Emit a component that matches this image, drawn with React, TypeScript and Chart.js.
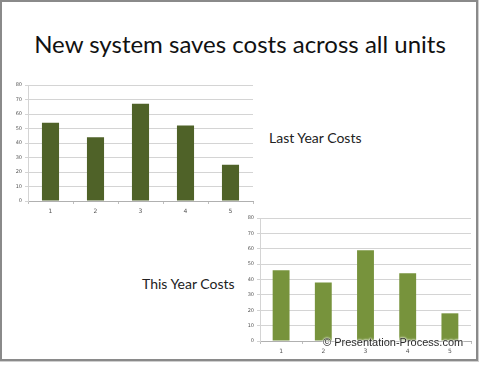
import React, { useEffect, useRef } from "react";
import { Chart, registerables } from "chart.js";

Chart.register(...registerables);

const categories = ["1", "2", "3", "4", "5"];
const lastYearCosts = [54, 44, 67, 52, 25];
const thisYearCosts = [46, 38, 59, 44, 18];
const yTicks = [0, 10, 20, 30, 40, 50, 60, 70, 80];

const titleText = "New system saves costs across all units";
const lastLabel = "Last Year Costs";
const thisLabel = "This Year Costs";
const watermark = "© Presentation-Process.com";

function makeConfig(values: number[], color: string, yWidth: number, barPct: number, padRight: number, padTop: number, xHeight: number): any {
  return {
    type: "bar",
    data: {
      labels: categories,
      datasets: [{ data: values, backgroundColor: color, borderWidth: 0, barPercentage: barPct, categoryPercentage: 1 }],
    },
    options: {
      animation: false,
      responsive: false,
      maintainAspectRatio: false,
      layout: { padding: { left: 0, right: padRight, top: padTop, bottom: 0 } },
      plugins: { legend: { display: false }, tooltip: { enabled: false }, title: { display: false } },
      scales: {
        x: {
          grid: { offset: true, drawOnChartArea: false, drawTicks: true, tickLength: 3, color: "#bfbfbf" },
          border: { display: true, color: "#b0b0b0" },
          ticks: { font: { size: 6, family: "DejaVu Sans" }, color: "#555", padding: 4 },
          afterFit: (s: any) => { s.height = xHeight; },
        },
        y: {
          min: 0,
          max: 80,
          afterBuildTicks: (s: any) => { s.ticks = yTicks.map((v) => ({ value: v })); },
          grid: { color: "#d4d4d4", tickLength: 3 },
          border: { display: true, color: "#d4d4d4" },
          ticks: { font: { size: 5, family: "DejaVu Sans" }, color: "#555", padding: 3 },
          afterFit: (s: any) => { s.width = yWidth; },
        },
      },
    },
  };
}

function BarCanvas(props: { values: number[]; color: string; left: number; top: number; width: number; height: number; yWidth: number; barPct: number; padRight: number; padTop: number; xHeight: number }) {
  const ref = useRef<HTMLCanvasElement>(null);
  useEffect(() => {
    if (!ref.current) return;
    const c = new Chart(ref.current, makeConfig(props.values, props.color, props.yWidth, props.barPct, props.padRight, props.padTop, props.xHeight));
    return () => c.destroy();
  }, []);
  return (
    <canvas
      ref={ref}
      width={props.width}
      height={props.height}
      style={{ position: "absolute", left: props.left, top: props.top, width: props.width, height: props.height }}
    />
  );
}

export default function App() {
  useEffect(() => {
    document.body.style.margin = "0";
  }, []);
  const textFont = "Lato, 'Open Sans', sans-serif";
  return (
    <div style={{ position: "absolute", left: 0, top: 0, width: 480, height: 365, background: "#fff", overflow: "hidden" }}>
      <div style={{ position: "absolute", left: 0, top: 0, width: 474, height: 357, border: "2px solid #8a8a8a", outline: "1px solid #cfcfcf", outlineOffset: 0 }} />
      <div style={{ position: "absolute", left: 0, top: 29, width: 480, textAlign: "center", fontFamily: textFont, fontSize: 24, color: "#111", whiteSpace: "nowrap" }}>{titleText}</div>
      <BarCanvas values={lastYearCosts} color="#4f6228" left={5} top={78} width={250} height={142} yWidth={23} barPct={0.38} padRight={2} padTop={7} xHeight={19} />
      <BarCanvas values={thisYearCosts} color="#77933c" left={236} top={211} width={240} height={149} yWidth={24} barPct={0.4} padRight={5} padTop={7} xHeight={19} />
      <div style={{ position: "absolute", left: 269, top: 129, fontFamily: textFont, fontSize: 14, color: "#222", whiteSpace: "nowrap" }}>{lastLabel}</div>
      <div style={{ position: "absolute", left: 142, top: 275, fontFamily: textFont, fontSize: 14, color: "#222", whiteSpace: "nowrap" }}>{thisLabel}</div>
      <div style={{ position: "absolute", left: 323, top: 336, fontFamily: "'Liberation Sans', Arial, sans-serif", fontSize: 11, color: "#2a2a2a", whiteSpace: "nowrap", textShadow: "0 0 2px #fff, 0 0 2px #fff, 0 0 3px #fff" }}>{watermark}</div>
    </div>
  );
}
